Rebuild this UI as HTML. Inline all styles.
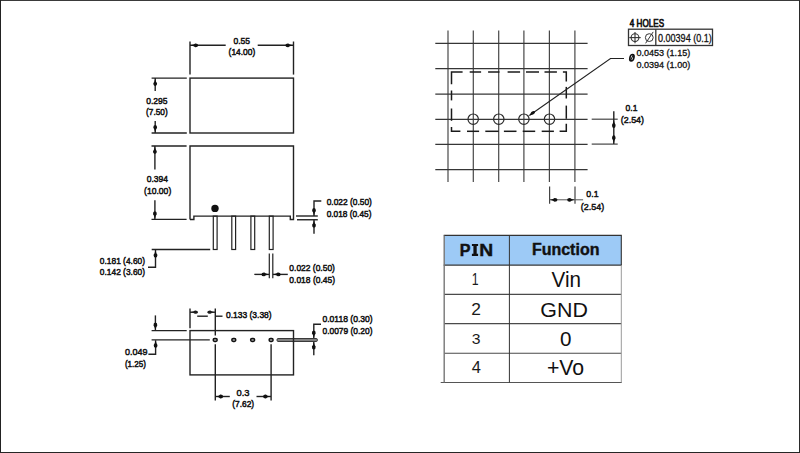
<!DOCTYPE html>
<html><head><meta charset="utf-8"><style>
html,body{margin:0;padding:0;background:#fff;}
svg{display:block;font-family:"Liberation Sans",sans-serif;}

</style></head><body>
<svg width="800" height="453" viewBox="0 0 800 453">
<rect x="0" y="0" width="800" height="453" fill="#fff"/>
<rect x="190" y="78.1" width="103.5" height="54.9" fill="none" stroke="#222" stroke-width="1.4"/>
<line x1="190" y1="41.5" x2="190" y2="74.6" stroke="#222" stroke-width="1.4" />
<line x1="293.5" y1="41.5" x2="293.5" y2="74.6" stroke="#222" stroke-width="1.4" />
<line x1="190" y1="45.3" x2="225.7" y2="45.3" stroke="#222" stroke-width="1.4" />
<line x1="257.7" y1="45.3" x2="293.5" y2="45.3" stroke="#222" stroke-width="1.4" />
<path d="M0,0 L3.06,-0.87 L4.63,-1.90 Q7.41,-2.07 7.60,0 Q7.41,2.07 4.63,1.90 L3.06,0.87 Z" fill="#111" transform="translate(190.6,45.3) rotate(0)"/>
<path d="M0,0 L3.06,-0.87 L4.63,-1.90 Q7.41,-2.07 7.60,0 Q7.41,2.07 4.63,1.90 L3.06,0.87 Z" fill="#111" transform="translate(292.9,45.3) rotate(180)"/>
<text transform="translate(233.46,43.60) scale(0.8869,1)" font-size="9.58" font-weight="normal" font-family="Liberation Sans" fill="#111" stroke="#111" stroke-width="0.507">0.55</text>
<text transform="translate(228.59,55.00) scale(0.8670,1)" font-size="9.72" font-weight="normal" font-family="Liberation Sans" fill="#111" stroke="#111" stroke-width="0.519">(14.00)</text>
<line x1="151.6" y1="78.1" x2="186.8" y2="78.1" stroke="#222" stroke-width="1.4" />
<line x1="151.6" y1="133" x2="186.8" y2="133" stroke="#222" stroke-width="1.4" />
<line x1="155.2" y1="78.1" x2="155.2" y2="91" stroke="#222" stroke-width="1.4" />
<line x1="155.2" y1="121" x2="155.2" y2="133" stroke="#222" stroke-width="1.4" />
<path d="M0,0 L3.06,-0.87 L4.63,-1.90 Q7.41,-2.07 7.60,0 Q7.41,2.07 4.63,1.90 L3.06,0.87 Z" fill="#111" transform="translate(155.2,78.6) rotate(90)"/>
<path d="M0,0 L3.06,-0.87 L4.63,-1.90 Q7.41,-2.07 7.60,0 Q7.41,2.07 4.63,1.90 L3.06,0.87 Z" fill="#111" transform="translate(155.2,132.5) rotate(-90)"/>
<text transform="translate(146.26,103.50) scale(0.8634,1)" font-size="9.86" font-weight="normal" font-family="Liberation Sans" fill="#111" stroke="#111" stroke-width="0.521">0.295</text>
<text transform="translate(146.10,115.40) scale(0.8513,1)" font-size="9.72" font-weight="normal" font-family="Liberation Sans" fill="#111" stroke="#111" stroke-width="0.529">(7.50)</text>
<polyline points="190,219.5 190,146 293.5,146 293.5,219.5 290.3,219.5 290.3,216.1 193.9,216.1 193.9,219.5 190,219.5" fill="none" stroke="#222" stroke-width="1.4"/>
<line x1="151.5" y1="146" x2="186.6" y2="146" stroke="#222" stroke-width="1.4" />
<line x1="151.5" y1="219.4" x2="186.6" y2="219.4" stroke="#222" stroke-width="1.4" />
<line x1="154.9" y1="146" x2="154.9" y2="169.5" stroke="#222" stroke-width="1.4" />
<line x1="154.9" y1="200.2" x2="154.9" y2="219.4" stroke="#222" stroke-width="1.4" />
<path d="M0,0 L3.06,-0.87 L4.63,-1.90 Q7.41,-2.07 7.60,0 Q7.41,2.07 4.63,1.90 L3.06,0.87 Z" fill="#111" transform="translate(154.9,146.5) rotate(90)"/>
<path d="M0,0 L3.06,-0.87 L4.63,-1.90 Q7.41,-2.07 7.60,0 Q7.41,2.07 4.63,1.90 L3.06,0.87 Z" fill="#111" transform="translate(154.9,218.9) rotate(-90)"/>
<text transform="translate(146.66,182.20) scale(0.8765,1)" font-size="9.72" font-weight="normal" font-family="Liberation Sans" fill="#111" stroke="#111" stroke-width="0.513">0.394</text>
<text transform="translate(144.08,194.10) scale(0.8969,1)" font-size="9.58" font-weight="normal" font-family="Liberation Sans" fill="#111" stroke="#111" stroke-width="0.502">(10.00)</text>
<circle cx="215" cy="208.4" r="3.7" fill="#111"/>
<rect x="213.29999999999998" y="216.1" width="3.8" height="33.4" fill="none" stroke="#222" stroke-width="1.2"/>
<rect x="231.79999999999998" y="216.1" width="3.8" height="33.4" fill="none" stroke="#222" stroke-width="1.2"/>
<rect x="250.9" y="216.1" width="3.8" height="33.4" fill="none" stroke="#222" stroke-width="1.2"/>
<rect x="269.3" y="216.1" width="3.8" height="33.4" fill="none" stroke="#222" stroke-width="1.2"/>
<line x1="151.7" y1="249.5" x2="210.2" y2="249.5" stroke="#222" stroke-width="1.4" />
<polyline points="148,267.3 155.5,267.3 155.5,250" fill="none" stroke="#222" stroke-width="1.4"/>
<path d="M0,0 L3.06,-0.87 L4.63,-1.90 Q7.41,-2.07 7.60,0 Q7.41,2.07 4.63,1.90 L3.06,0.87 Z" fill="#111" transform="translate(155.5,250.1) rotate(90)"/>
<text transform="translate(99.87,264.11) scale(0.9290,1)" font-size="9.01" font-weight="normal" font-family="Liberation Sans" fill="#111" stroke="#111" stroke-width="0.484">0.181 (4.60)</text>
<text transform="translate(99.87,275.11) scale(0.9290,1)" font-size="9.01" font-weight="normal" font-family="Liberation Sans" fill="#111" stroke="#111" stroke-width="0.484">0.142 (3.60)</text>
<line x1="296" y1="216" x2="317.8" y2="216" stroke="#222" stroke-width="1.4" />
<line x1="297" y1="219.75" x2="317.8" y2="219.75" stroke="#222" stroke-width="1.4" />
<polyline points="321.3,201 314,201 314,216" fill="none" stroke="#222" stroke-width="1.4"/>
<path d="M0,0 L3.06,-0.87 L4.63,-1.90 Q7.41,-2.07 7.60,0 Q7.41,2.07 4.63,1.90 L3.06,0.87 Z" fill="#111" transform="translate(314,215.6) rotate(-90)"/>
<line x1="314" y1="219.75" x2="314" y2="233.8" stroke="#222" stroke-width="1.4" />
<path d="M0,0 L3.06,-0.87 L4.63,-1.90 Q7.41,-2.07 7.60,0 Q7.41,2.07 4.63,1.90 L3.06,0.87 Z" fill="#111" transform="translate(314,220.2) rotate(90)"/>
<text transform="translate(326.66,205.10) scale(0.8636,1)" font-size="9.72" font-weight="normal" font-family="Liberation Sans" fill="#111" stroke="#111" stroke-width="0.521">0.022 (0.50)</text>
<text transform="translate(326.67,216.91) scale(0.8814,1)" font-size="9.44" font-weight="normal" font-family="Liberation Sans" fill="#111" stroke="#111" stroke-width="0.511">0.018 (0.45)</text>
<line x1="269.3" y1="253.5" x2="269.3" y2="278.3" stroke="#222" stroke-width="1.2" />
<line x1="272.8" y1="253.5" x2="272.8" y2="278.3" stroke="#222" stroke-width="1.2" />
<line x1="254.3" y1="274.4" x2="269.3" y2="274.4" stroke="#222" stroke-width="1.4" />
<line x1="272.8" y1="274.4" x2="287.8" y2="274.4" stroke="#222" stroke-width="1.4" />
<path d="M0,0 L3.06,-0.87 L4.63,-1.90 Q7.41,-2.07 7.60,0 Q7.41,2.07 4.63,1.90 L3.06,0.87 Z" fill="#111" transform="translate(269,274.4) rotate(180)"/>
<path d="M0,0 L3.06,-0.87 L4.63,-1.90 Q7.41,-2.07 7.60,0 Q7.41,2.07 4.63,1.90 L3.06,0.87 Z" fill="#111" transform="translate(273.1,274.4) rotate(0)"/>
<text transform="translate(289.36,271.21) scale(0.9251,1)" font-size="9.15" font-weight="normal" font-family="Liberation Sans" fill="#111" stroke="#111" stroke-width="0.486">0.022 (0.50)</text>
<text transform="translate(289.36,282.90) scale(0.8842,1)" font-size="9.58" font-weight="normal" font-family="Liberation Sans" fill="#111" stroke="#111" stroke-width="0.509">0.018 (0.45)</text>
<rect x="190" y="330.6" width="103.5" height="44.3" fill="none" stroke="#222" stroke-width="1.4"/>
<line x1="190" y1="308.6" x2="190" y2="328.3" stroke="#222" stroke-width="1.4" />
<line x1="215.3" y1="308.6" x2="215.3" y2="335.6" stroke="#222" stroke-width="1.4" />
<line x1="215.3" y1="344.2" x2="215.3" y2="400.5" stroke="#222" stroke-width="1.4" />
<line x1="271.1" y1="344.2" x2="271.1" y2="400.5" stroke="#222" stroke-width="1.4" />
<path d="M0,0 L3.02,-0.75 L4.57,-1.65 Q7.32,-1.79 7.50,0 Q7.32,1.79 4.57,1.65 L3.02,0.75 Z" fill="#111" transform="translate(190.4,312.2) rotate(0)"/>
<path d="M0,0 L3.02,-0.75 L4.57,-1.65 Q7.32,-1.79 7.50,0 Q7.32,1.79 4.57,1.65 L3.02,0.75 Z" fill="#111" transform="translate(214.9,312.2) rotate(180)"/>
<line x1="190" y1="312.2" x2="197.6" y2="312.2" stroke="#222" stroke-width="1.4" />
<line x1="207.6" y1="312.2" x2="215.3" y2="312.2" stroke="#222" stroke-width="1.4" />
<line x1="197.2" y1="316.2" x2="207.8" y2="316.2" stroke="#222" stroke-width="1.4" />
<line x1="215.3" y1="316.2" x2="222.5" y2="316.2" stroke="#222" stroke-width="1.4" />
<text transform="translate(225.96,317.60) scale(0.8734,1)" font-size="9.72" font-weight="normal" font-family="Liberation Sans" fill="#111" stroke="#111" stroke-width="0.515">0.133 (3.38)</text>
<line x1="151.6" y1="330.6" x2="186.7" y2="330.6" stroke="#222" stroke-width="1.4" />
<line x1="151.6" y1="339.9" x2="209.8" y2="339.9" stroke="#222" stroke-width="1.4" />
<line x1="155.4" y1="315.4" x2="155.4" y2="330.6" stroke="#222" stroke-width="1.4" />
<path d="M0,0 L3.06,-0.87 L4.63,-1.90 Q7.41,-2.07 7.60,0 Q7.41,2.07 4.63,1.90 L3.06,0.87 Z" fill="#111" transform="translate(155.4,330.2) rotate(-90)"/>
<polyline points="148.4,354.2 155.6,354.2 155.6,340.2" fill="none" stroke="#222" stroke-width="1.4"/>
<path d="M0,0 L3.06,-0.87 L4.63,-1.90 Q7.41,-2.07 7.60,0 Q7.41,2.07 4.63,1.90 L3.06,0.87 Z" fill="#111" transform="translate(155.6,340.3) rotate(90)"/>
<text transform="translate(125.04,354.70) scale(0.9269,1)" font-size="9.72" font-weight="normal" font-family="Liberation Sans" fill="#111" stroke="#111" stroke-width="0.485">0.049</text>
<text transform="translate(124.92,366.70) scale(0.8386,1)" font-size="9.58" font-weight="normal" font-family="Liberation Sans" fill="#111" stroke="#111" stroke-width="0.537">(1.25)</text>
<rect x="213.2" y="338.5" width="4.0" height="3.0" rx="1.4" fill="#aaa" stroke="#111" stroke-width="1.5"/>
<rect x="231.8" y="338.5" width="4.0" height="3.0" rx="1.4" fill="#aaa" stroke="#111" stroke-width="1.5"/>
<rect x="250.6" y="338.5" width="4.0" height="3.0" rx="1.4" fill="#aaa" stroke="#111" stroke-width="1.5"/>
<rect x="269.1" y="338.5" width="4.0" height="3.0" rx="1.4" fill="#aaa" stroke="#111" stroke-width="1.5"/>
<rect x="277.1" y="338.6" width="40.2" height="2.8" rx="0.8" fill="#8a8a8a" stroke="#2a2a2a" stroke-width="1"/>
<line x1="293.5" y1="338" x2="293.5" y2="342.2" stroke="#222" stroke-width="1.4" />
<polyline points="321,324.2 313.8,324.2 313.8,338.1" fill="none" stroke="#222" stroke-width="1.4"/>
<path d="M0,0 L3.06,-0.87 L4.63,-1.90 Q7.41,-2.07 7.60,0 Q7.41,2.07 4.63,1.90 L3.06,0.87 Z" fill="#111" transform="translate(313.8,338.1) rotate(-90)"/>
<line x1="313.8" y1="341.9" x2="313.8" y2="355.3" stroke="#222" stroke-width="1.4" />
<path d="M0,0 L3.06,-0.87 L4.63,-1.90 Q7.41,-2.07 7.60,0 Q7.41,2.07 4.63,1.90 L3.06,0.87 Z" fill="#111" transform="translate(313.8,341.9) rotate(90)"/>
<text transform="translate(322.46,322.30) scale(0.8792,1)" font-size="9.72" font-weight="normal" font-family="Liberation Sans" fill="#111" stroke="#111" stroke-width="0.512">0.0118 (0.30)</text>
<text transform="translate(322.46,334.20) scale(0.8530,1)" font-size="9.86" font-weight="normal" font-family="Liberation Sans" fill="#111" stroke="#111" stroke-width="0.528">0.0079 (0.20)</text>
<line x1="215.2" y1="396.5" x2="229.8" y2="396.5" stroke="#222" stroke-width="1.4" />
<line x1="256.5" y1="396.5" x2="271" y2="396.5" stroke="#222" stroke-width="1.4" />
<path d="M0,0 L3.06,-0.87 L4.63,-1.90 Q7.41,-2.07 7.60,0 Q7.41,2.07 4.63,1.90 L3.06,0.87 Z" fill="#111" transform="translate(215.6,396.5) rotate(0)"/>
<path d="M0,0 L3.06,-0.87 L4.63,-1.90 Q7.41,-2.07 7.60,0 Q7.41,2.07 4.63,1.90 L3.06,0.87 Z" fill="#111" transform="translate(270.6,396.5) rotate(180)"/>
<text transform="translate(236.52,395.60) scale(0.9804,1)" font-size="9.58" font-weight="normal" font-family="Liberation Sans" fill="#111" stroke="#111" stroke-width="0.459">0.3</text>
<text transform="translate(232.20,407.30) scale(0.8764,1)" font-size="9.58" font-weight="normal" font-family="Liberation Sans" fill="#111" stroke="#111" stroke-width="0.513">(7.62)</text>
<line x1="448.0" y1="30.5" x2="448.0" y2="182.1" stroke="#484848" stroke-width="1.2" />
<line x1="473.3" y1="30.5" x2="473.3" y2="182.1" stroke="#484848" stroke-width="1.2" />
<line x1="498.7" y1="30.5" x2="498.7" y2="182.1" stroke="#484848" stroke-width="1.2" />
<line x1="523.9" y1="30.5" x2="523.9" y2="182.1" stroke="#484848" stroke-width="1.2" />
<line x1="549.4" y1="30.5" x2="549.4" y2="182.1" stroke="#484848" stroke-width="1.2" />
<line x1="574.9" y1="30.5" x2="574.9" y2="182.1" stroke="#484848" stroke-width="1.2" />
<line x1="435.3" y1="43.400000000000006" x2="587.6" y2="43.400000000000006" stroke="#363636" stroke-width="1.25" />
<line x1="435.3" y1="68.7" x2="587.6" y2="68.7" stroke="#363636" stroke-width="1.25" />
<line x1="435.3" y1="94.2" x2="587.6" y2="94.2" stroke="#363636" stroke-width="1.25" />
<line x1="435.3" y1="119.4" x2="587.6" y2="119.4" stroke="#363636" stroke-width="1.25" />
<line x1="435.3" y1="144.29999999999998" x2="587.6" y2="144.29999999999998" stroke="#363636" stroke-width="1.25" />
<line x1="435.3" y1="169.6" x2="587.6" y2="169.6" stroke="#363636" stroke-width="1.25" />
<polyline points="451.5,84.2 451.5,72.0 462.6,72.0" fill="none" stroke="#1a1a1a" stroke-width="1.5"/>
<line x1="469.7" y1="72.0" x2="481.1" y2="72.0" stroke="#1a1a1a" stroke-width="1.5" />
<line x1="488.1" y1="72.0" x2="499.5" y2="72.0" stroke="#1a1a1a" stroke-width="1.5" />
<line x1="507.6" y1="72.0" x2="520.1" y2="72.0" stroke="#1a1a1a" stroke-width="1.5" />
<line x1="526" y1="72.0" x2="539" y2="72.0" stroke="#1a1a1a" stroke-width="1.5" />
<line x1="544.5" y1="72.0" x2="556.9" y2="72.0" stroke="#1a1a1a" stroke-width="1.5" />
<polyline points="562.9,72.0 566.3,72.0 566.3,81.6" fill="none" stroke="#1a1a1a" stroke-width="1.5"/>
<line x1="566.3" y1="86.9" x2="566.3" y2="98.5" stroke="#1a1a1a" stroke-width="1.5" />
<line x1="566.3" y1="105.6" x2="566.3" y2="118.8" stroke="#1a1a1a" stroke-width="1.5" />
<polyline points="566.3,123.8 566.3,131.3 559.6,131.3" fill="none" stroke="#1a1a1a" stroke-width="1.5"/>
<line x1="467" y1="131.3" x2="479.1" y2="131.3" stroke="#1a1a1a" stroke-width="1.5" />
<line x1="485.3" y1="131.3" x2="498.7" y2="131.3" stroke="#1a1a1a" stroke-width="1.5" />
<line x1="503.9" y1="131.3" x2="516.5" y2="131.3" stroke="#1a1a1a" stroke-width="1.5" />
<line x1="522.7" y1="131.3" x2="535.2" y2="131.3" stroke="#1a1a1a" stroke-width="1.5" />
<line x1="541.7" y1="131.3" x2="553.9" y2="131.3" stroke="#1a1a1a" stroke-width="1.5" />
<polyline points="460.4,131.3 451.5,131.3 451.5,126.9" fill="none" stroke="#1a1a1a" stroke-width="1.5"/>
<line x1="451.5" y1="90.5" x2="451.5" y2="100.4" stroke="#1a1a1a" stroke-width="1.5" />
<line x1="451.5" y1="108.5" x2="451.5" y2="120.8" stroke="#1a1a1a" stroke-width="1.5" />
<circle cx="473.2" cy="119.2" r="5.2" fill="none" stroke="#2a2a2a" stroke-width="1.2"/>
<circle cx="498.8" cy="119.2" r="5.2" fill="none" stroke="#2a2a2a" stroke-width="1.2"/>
<circle cx="523.9" cy="119.2" r="5.2" fill="none" stroke="#2a2a2a" stroke-width="1.2"/>
<circle cx="549.5" cy="119.2" r="5.2" fill="none" stroke="#2a2a2a" stroke-width="1.2"/>
<polyline points="624,58.5 610.5,58.5 530,115" fill="none" stroke="#222" stroke-width="1.1"/>
<path d="M0,0 L3.42,-0.71 L5.18,-1.54 Q8.29,-1.68 8.50,0 Q8.29,1.68 5.18,1.54 L3.42,0.71 Z" fill="#111" transform="translate(528.0,116.3) rotate(-35)"/>
<text transform="translate(629.84,26.79) scale(0.7680,1)" font-size="10.56" font-weight="normal" font-family="Liberation Sans" fill="#111" stroke="#111" stroke-width="0.716">4 HOLES</text>
<rect x="628.5" y="29.2" width="84" height="16.3" fill="none" stroke="#333" stroke-width="1.3"/>
<line x1="655.8" y1="29.2" x2="655.8" y2="45.5" stroke="#333" stroke-width="1.3" />
<circle cx="635" cy="37.6" r="3.9" fill="none" stroke="#333" stroke-width="1.1"/>
<line x1="629.3" y1="37.6" x2="640.7" y2="37.6" stroke="#333" stroke-width="1.1" />
<line x1="635" y1="31.9" x2="635" y2="43.3" stroke="#333" stroke-width="1.1" />
<circle cx="649.3" cy="37.6" r="3.9" fill="none" stroke="#333" stroke-width="1.0"/>
<line x1="645.6" y1="43.3" x2="653.2" y2="31.9" stroke="#333" stroke-width="1.0" />
<text transform="translate(658.04,41.79) scale(0.8560,1)" font-size="10.56" font-weight="normal" font-family="Liberation Sans" fill="#111" stroke="#111" stroke-width="0.292">0.00394 (0.1)</text>
<g transform="translate(631.9,57.7) skewX(-10) translate(-631.9,-57.7)"><ellipse cx="631.9" cy="57.7" rx="2.0" ry="3.2" fill="none" stroke="#111" stroke-width="1.7"/><line x1="630.9" y1="60.9" x2="632.9" y2="54.5" stroke="#111" stroke-width="1.1"/></g>
<text transform="translate(636.44,55.80) scale(0.9172,1)" font-size="9.86" font-weight="normal" font-family="Liberation Sans" fill="#111" stroke="#111" stroke-width="0.327">0.0453 (1.15)</text>
<text transform="translate(636.44,68.10) scale(0.9172,1)" font-size="9.86" font-weight="normal" font-family="Liberation Sans" fill="#111" stroke="#111" stroke-width="0.327">0.0394 (1.00)</text>
<line x1="591.7" y1="119.2" x2="617.7" y2="119.2" stroke="#444" stroke-width="1.2" />
<line x1="591.7" y1="144.1" x2="617.7" y2="144.1" stroke="#444" stroke-width="1.2" />
<line x1="613.8" y1="111.2" x2="613.8" y2="144.1" stroke="#222" stroke-width="1.4" />
<path d="M0,0 L3.42,-0.80 L5.18,-1.75 Q8.29,-1.90 8.50,0 Q8.29,1.90 5.18,1.75 L3.42,0.80 Z" fill="#111" transform="translate(613.8,119.6) rotate(90)"/>
<path d="M0,0 L3.42,-0.80 L5.18,-1.75 Q8.29,-1.90 8.50,0 Q8.29,1.90 5.18,1.75 L3.42,0.80 Z" fill="#111" transform="translate(613.8,143.7) rotate(-90)"/>
<text transform="translate(625.56,110.80) scale(0.8915,1)" font-size="9.58" font-weight="normal" font-family="Liberation Sans" fill="#111" stroke="#111" stroke-width="0.505">0.1</text>
<text transform="translate(620.77,123.40) scale(0.9174,1)" font-size="9.72" font-weight="normal" font-family="Liberation Sans" fill="#111" stroke="#111" stroke-width="0.491">(2.54)</text>
<line x1="549.6" y1="186.5" x2="549.6" y2="203.7" stroke="#444" stroke-width="1.2" />
<line x1="575" y1="186.5" x2="575" y2="203.7" stroke="#444" stroke-width="1.2" />
<line x1="549.6" y1="199.8" x2="583.1" y2="199.8" stroke="#555" stroke-width="1" />
<path d="M0,0 L3.06,-0.87 L4.63,-1.90 Q7.41,-2.07 7.60,0 Q7.41,2.07 4.63,1.90 L3.06,0.87 Z" fill="#111" transform="translate(549.9,199.8) rotate(0)"/>
<path d="M0,0 L3.06,-0.87 L4.63,-1.90 Q7.41,-2.07 7.60,0 Q7.41,2.07 4.63,1.90 L3.06,0.87 Z" fill="#111" transform="translate(574.7,199.8) rotate(180)"/>
<text transform="translate(586.35,197.30) scale(0.9156,1)" font-size="9.58" font-weight="normal" font-family="Liberation Sans" fill="#111" stroke="#111" stroke-width="0.491">0.1</text>
<text transform="translate(580.86,210.31) scale(0.9783,1)" font-size="9.15" font-weight="normal" font-family="Liberation Sans" fill="#111" stroke="#111" stroke-width="0.460">(2.54)</text>
<rect x="444.2" y="235.4" width="177.09999999999997" height="29.799999999999983" fill="#9dcaf6"/>
<line x1="443.7" y1="235.4" x2="621.8" y2="235.4" stroke="#333" stroke-width="1.2" />
<line x1="443.7" y1="265.2" x2="621.8" y2="265.2" stroke="#383838" stroke-width="1.2" />
<line x1="444.2" y1="294.4" x2="621.3" y2="294.4" stroke="#4a4a4a" stroke-width="1.1" />
<line x1="444.2" y1="323.6" x2="621.3" y2="323.6" stroke="#4a4a4a" stroke-width="1.1" />
<line x1="444.2" y1="353.3" x2="621.3" y2="353.3" stroke="#4a4a4a" stroke-width="1.1" />
<line x1="440.7" y1="382.5" x2="621.8" y2="382.5" stroke="#555" stroke-width="1.2" />
<line x1="444.2" y1="235.4" x2="444.2" y2="382.5" stroke="#777" stroke-width="1.4" />
<line x1="509.4" y1="235.4" x2="509.4" y2="382.5" stroke="#333" stroke-width="1.0" />
<line x1="621.3" y1="235.4" x2="621.3" y2="265.2" stroke="#333" stroke-width="1.1" />
<line x1="621.3" y1="265.2" x2="621.3" y2="382.5" stroke="#9a9a9a" stroke-width="1.0" />
<text transform="translate(459.77,255.90) scale(0.9241,1)" font-size="17.39" font-weight="bold" font-family="Liberation Sans" fill="#111" stroke="#111" stroke-width="0.487">P</text>
<text transform="translate(479.25,255.90) scale(1.1103,1)" font-size="17.39" font-weight="bold" font-family="Liberation Sans" fill="#111" stroke="#111" stroke-width="0.405">N</text>
<path d="M471.9,243.9 H478.1 V246 H476.7 V253.8 H478.1 V255.9 H471.9 V253.8 H473.4 V246 H471.9 Z" fill="#111"/>
<text transform="translate(531.88,255.00) scale(1.0046,1)" font-size="15.94" font-weight="bold" font-family="Liberation Sans" fill="#111" stroke="#111" stroke-width="0.398">Function</text>
<text transform="translate(471.81,285.00) scale(0.7460,1)" font-size="16.52" font-weight="normal" font-family="Liberation Sans" fill="#1a1a1a">1</text>
<text transform="translate(471.13,315.00) scale(1.0061,1)" font-size="17.29" font-weight="normal" font-family="Liberation Sans" fill="#1a1a1a">2</text>
<text transform="translate(471.87,343.95) scale(1.0256,1)" font-size="15.35" font-weight="normal" font-family="Liberation Sans" fill="#1a1a1a">3</text>
<text transform="translate(471.77,373.47) scale(0.9825,1)" font-size="16.76" font-weight="normal" font-family="Liberation Sans" fill="#1a1a1a">4</text>
<text transform="translate(551.49,286.80) scale(0.9200,1)" font-size="22.46" font-weight="normal" font-family="Liberation Sans" fill="#111">Vin</text>
<text transform="translate(540.33,316.60) scale(1.0261,1)" font-size="20.87" font-weight="normal" font-family="Liberation Sans" fill="#111">GND</text>
<text transform="translate(559.97,345.59) scale(0.9894,1)" font-size="20.85" font-weight="normal" font-family="Liberation Sans" fill="#111">0</text>
<text transform="translate(546.94,374.50) scale(0.9914,1)" font-size="21.45" font-weight="normal" font-family="Liberation Sans" fill="#111">+Vo</text>
<rect x="0" y="0" width="800" height="1" fill="#3a3a3a"/><rect x="0" y="0" width="1" height="453" fill="#222"/><rect x="799" y="0" width="1" height="453" fill="#2a2a2a"/><rect x="0" y="452" width="800" height="1" fill="#262626"/>
</svg>
</body></html>
